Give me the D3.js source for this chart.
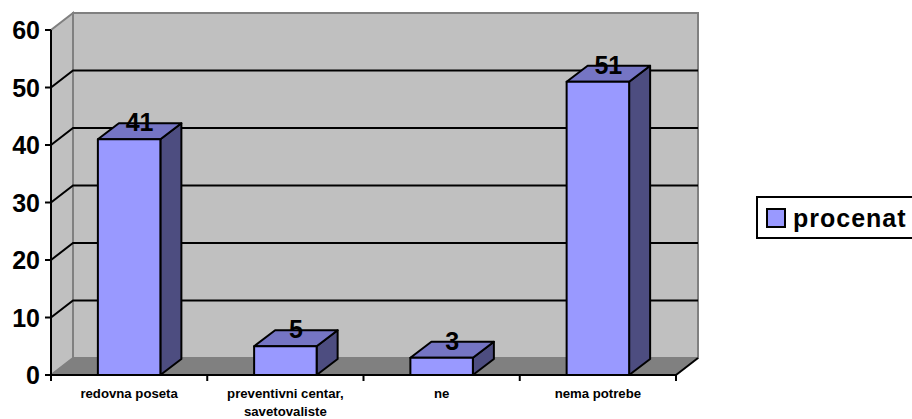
<!DOCTYPE html>
<html>
<head>
<meta charset="utf-8">
<script src="https://cdn.jsdelivr.net/npm/d3@7"></script>
<style>
  body { margin: 0; background: #fff; }
  svg { font-family: Arial, "Liberation Sans", sans-serif; }
</style>
</head>
<body>
<div id="chart"></div>
<script>
// data
const categories = ['redovna poseta', 'preventivni centar, savetovaliste', 'ne', 'nema potrebe']
const values = [41, 5, 3, 51]
const yTicks = [0, 10, 20, 30, 40, 50, 60]
const seriesName = 'procenat'

const W = 912, H = 419
const plotLeft = 51, plotRight = 676, plotBottom = 375, plotTop = 30
const depthX = 22, depthY = -17   // 3d offset of the back wall
const barDx = 21, barDy = -16     // 3d offset of the bars

const svg = d3.select('#chart').append('svg')
  .attr('width', W)
  .attr('height', H)

const x = d3.scaleBand()
  .domain(categories)
  .range([plotLeft, plotRight])
  .paddingInner(0.6)
  .paddingOuter(0.3)

const xTicks = d3.scaleBand().domain(categories).range([plotLeft, plotRight])

const y = d3.scaleLinear()
  .domain([0, 60])
  .range([plotBottom, plotTop])

// left side wall
svg.append('path')
  .attr('d', `M${plotLeft},${plotBottom}L${plotLeft},${plotTop}L${plotLeft + depthX},${plotTop + depthY}L${plotLeft + depthX},${plotBottom + depthY}Z`)
  .attr('fill', '#c0c0c0')
  .attr('stroke', '#808080')
  .attr('stroke-width', 2)

// back wall
svg.append('rect')
  .attr('x', plotLeft + depthX)
  .attr('y', plotTop + depthY)
  .attr('width', plotRight - plotLeft)
  .attr('height', plotBottom - plotTop)
  .attr('fill', '#c0c0c0')
  .attr('stroke', '#808080')
  .attr('stroke-width', 2)

// floor
svg.append('path')
  .attr('d', `M${plotLeft},${plotBottom}L${plotLeft + depthX},${plotBottom + depthY}L${plotRight + depthX},${plotBottom + depthY}L${plotRight},${plotBottom}Z`)
  .attr('fill', '#808080')

// grid lines on the side and back wall
const grid = svg.append('g')
yTicks.filter(t => t > 0 && t < 60).forEach(t => {
  grid.append('path')
    .attr('d', `M${plotLeft},${y(t)}L${plotLeft + depthX},${y(t) + depthY}L${plotRight + depthX},${y(t) + depthY}`)
    .attr('fill', 'none')
    .attr('stroke', '#000')
    .attr('stroke-width', 2)
})

// floor right edge
svg.append('path')
  .attr('d', `M${plotRight},${plotBottom}L${plotRight + depthX},${plotBottom + depthY}`)
  .attr('stroke', '#000')
  .attr('stroke-width', 2)

// bars
const bars = svg.append('g')
categories.forEach((c, i) => {
  const x0 = x(c), x1 = x(c) + x.bandwidth()
  const yt = y(values[i]), yb = y(0)
  const g = bars.append('g')
    .attr('stroke', '#000')
    .attr('stroke-width', 2)
    .attr('stroke-linejoin', 'round')
  // side
  g.append('path')
    .attr('d', `M${x1},${yb}L${x1 + barDx},${yb + barDy}L${x1 + barDx},${yt + barDy}L${x1},${yt}Z`)
    .attr('fill', '#4d4d80')
  // top
  g.append('path')
    .attr('d', `M${x0},${yt}L${x0 + barDx},${yt + barDy}L${x1 + barDx},${yt + barDy}L${x1},${yt}Z`)
    .attr('fill', '#7575c4')
  // front
  g.append('rect')
    .attr('x', x0)
    .attr('y', yt)
    .attr('width', x.bandwidth())
    .attr('height', yb - yt)
    .attr('fill', '#9999ff')
  // value label
  svg.append('text')
    .attr('x', x0 + x.bandwidth() / 2 + barDx / 2)
    .attr('y', yt - 8)
    .attr('text-anchor', 'middle')
    .attr('font-size', 25)
    .attr('font-weight', 'bold')
    .text(values[i])
})

// y axis
const yAxis = svg.append('g')
yAxis.append('line')
  .attr('x1', plotLeft).attr('x2', plotLeft)
  .attr('y1', plotTop).attr('y2', plotBottom)
  .attr('stroke', '#000').attr('stroke-width', 2)
yTicks.forEach(t => {
  yAxis.append('line')
    .attr('x1', plotLeft - 6).attr('x2', plotLeft)
    .attr('y1', y(t)).attr('y2', y(t))
    .attr('stroke', '#000').attr('stroke-width', 2)
  yAxis.append('text')
    .attr('x', plotLeft - 11)
    .attr('y', y(t) + 9)
    .attr('text-anchor', 'end')
    .attr('font-size', 25)
    .attr('font-weight', 'bold')
    .text(t)
})

// x axis
const xAxis = svg.append('g')
xAxis.append('line')
  .attr('x1', plotLeft).attr('x2', plotRight)
  .attr('y1', plotBottom).attr('y2', plotBottom)
  .attr('stroke', '#000').attr('stroke-width', 2)
const tickXs = categories.map(c => xTicks(c)).concat([plotRight])
tickXs.forEach(tx => {
  xAxis.append('line')
    .attr('x1', tx).attr('x2', tx)
    .attr('y1', plotBottom).attr('y2', plotBottom + 6)
    .attr('stroke', '#000').attr('stroke-width', 2)
})
categories.forEach(c => {
  const lines = c.includes(', ') ? [c.split(', ')[0] + ',', c.split(', ')[1]] : [c]
  const t = xAxis.append('text')
    .attr('x', xTicks(c) + xTicks.bandwidth() / 2)
    .attr('y', 398)
    .attr('text-anchor', 'middle')
    .attr('font-size', 13.2)
    .attr('font-weight', 'bold')
  lines.forEach((l, k) => {
    t.append('tspan')
      .attr('x', xTicks(c) + xTicks.bandwidth() / 2)
      .attr('dy', k === 0 ? 0 : 18)
      .text(l)
  })
})

// legend
const legend = svg.append('g')
legend.append('rect')
  .attr('x', 757).attr('y', 197)
  .attr('width', 160).attr('height', 41)
  .attr('fill', '#fff')
  .attr('stroke', '#000').attr('stroke-width', 2)
legend.append('rect')
  .attr('x', 767).attr('y', 209)
  .attr('width', 18).attr('height', 18)
  .attr('fill', '#9999ff')
  .attr('stroke', '#000').attr('stroke-width', 2)
legend.append('text')
  .attr('x', 793).attr('y', 227)
  .attr('font-size', 25)
  .attr('letter-spacing', 1)
  .attr('font-weight', 'bold')
  .text(seriesName)
</script>
</body>
</html>
